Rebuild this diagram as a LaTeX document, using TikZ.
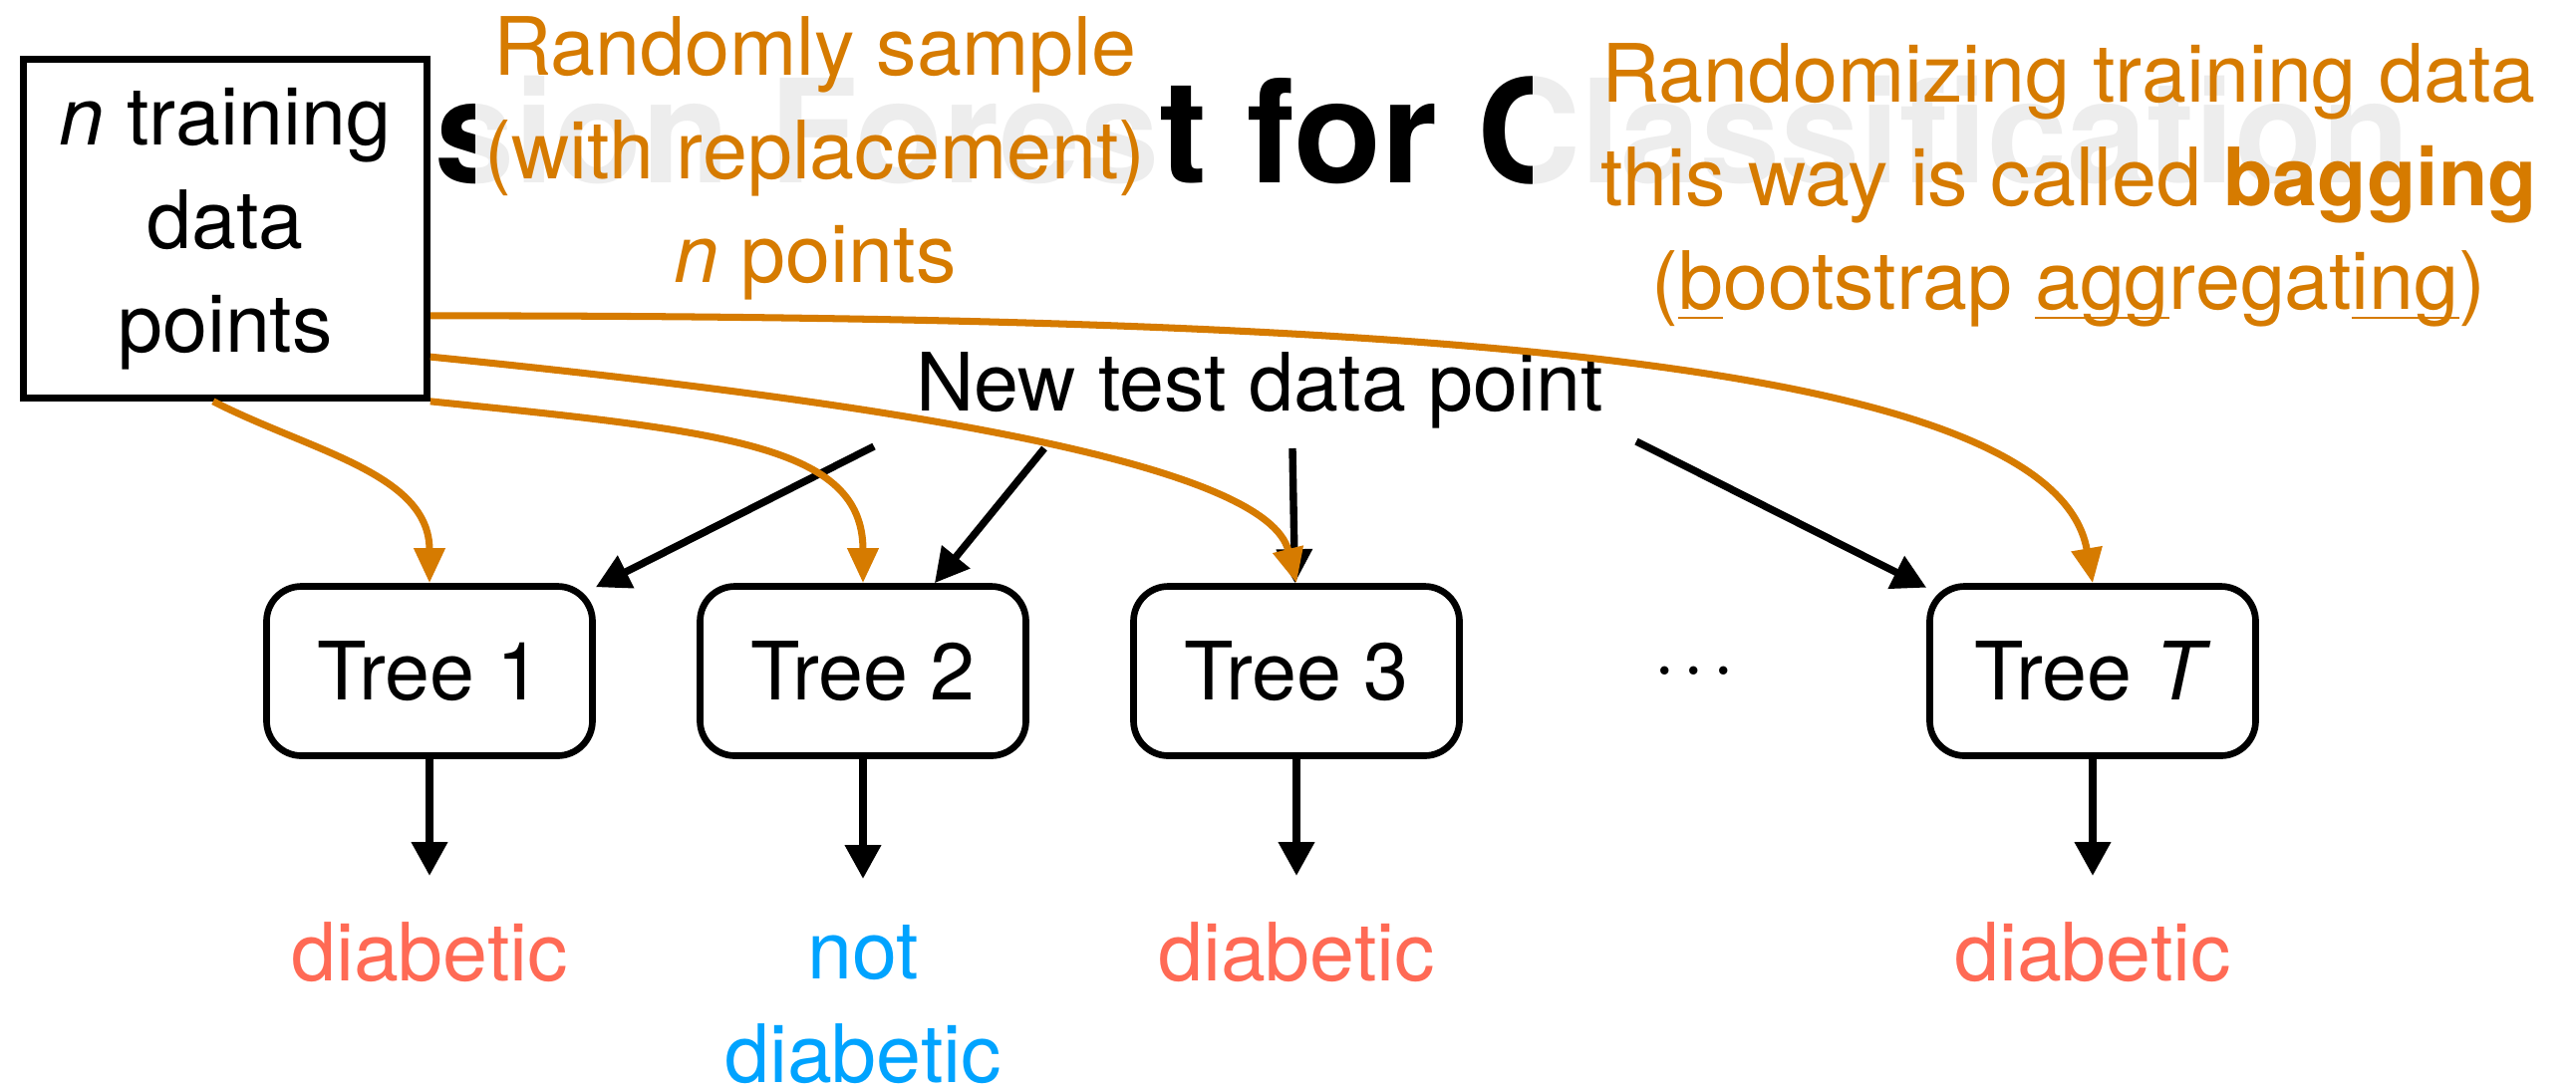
\documentclass[tikz,border=0pt]{standalone}
\usepackage{fontspec}
\setmainfont{TeX Gyre Heros}
\usepackage{xcolor}
\usepackage{tikz}
\usetikzlibrary{arrows.meta}

\definecolor{bagorange}{RGB}{214,123,0}
\definecolor{yescoral}{RGB}{255,106,85}
\definecolor{noblue}{RGB}{0,163,255}

\newcommand{\ulpart}[1]{\setbox0\hbox{#1}\rlap{\rule[-2.9pt]{\wd0}{0.8pt}}#1}

\tikzset{
  txt/.style={font=\fontsize{23}{29.6}\selectfont, inner sep=0pt, align=center},
  heading/.style={font=\bfseries\fontsize{41}{49}\selectfont, inner sep=0pt},
  note/.style={txt, text=bagorange, fill=white, fill opacity=0.93, text opacity=1, inner ysep=0.5mm},
  databox/.style={txt, draw, line width=1.9pt, fill=white, minimum width=4.05cm, minimum height=3.40cm},
  treebox/.style={txt, draw, line width=1.9pt, rounded corners=3.5mm, minimum width=3.27cm, minimum height=1.70cm},
  vote/.style={line width=2.1pt, -{Triangle[length=3.4mm, width=3.5mm]}},
  sample/.style={draw=bagorange, line width=2pt, -{Triangle[length=3.5mm, width=3mm]}},
}

\begin{document}
\begin{tikzpicture}
\useasboundingbox (0,0) rectangle (25.85,-10.93);
% title, partly covered by the notes
\node[heading, anchor=base west] (title) at (1.31,-1.83) {Decision Forest for Classification};
\node[note, minimum width=6.82cm] (samplenote) at (8.18,-1.585) {Randomly sample\\(with replacement)\\\textit{n} points};
\node[note, minimum width=10.76cm] (bagnote) at (20.76,-1.855) {Randomizing training data\\this way is called \textbf{bagging}\\(\ulpart{b}ootstrap \ulpart{agg}regat\ulpart{ing})};
\node[databox] (data) at (2.26,-2.295) {\textit{n} training\\data\\points};
\node[txt, anchor=base] (testpt) at (12.64,-4.12) {New test data point};

% trees
\foreach \i/\x in {1/4.31, 2/8.66, 3/13.01}
  \node[treebox] (tree\i) at (\x,-6.735) {Tree \i};
\node[treebox] (treeT) at (21.0,-6.735) {Tree \textit{T}};
\node[txt, anchor=base] (dots) at (17.0,-6.93) {·\kern2pt·\kern2pt·};

% predictions
\node[txt, text=yescoral, anchor=north] (out1) at (4.31,-9.25) {diabetic};
\node[txt, text=noblue, anchor=north] (out2) at (8.66,-9.28) {not\\diabetic};
\node[txt, text=yescoral, anchor=north] (out3) at (13.01,-9.25) {diabetic};
\node[txt, text=yescoral, anchor=north] (outT) at (21.0,-9.25) {diabetic};
\foreach \i in {1,2,3,T}
  \draw[vote, shorten >=4.6mm] (tree\i) -- (out\i);

% test point goes to every tree
\coordinate (from1) at (8.77,-4.48);
\coordinate (from2) at (10.48,-4.50);
\coordinate (from3) at (12.97,-4.50);
\coordinate (fromT) at (16.42,-4.43);
\foreach \i in {1,2,3,T}
  \draw[vote] (from\i) -- (tree\i);

% bootstrap samples
\draw[sample] (data.-94) .. controls +(0.98,-0.5) and +(0,1.1) .. (tree1.north);
\draw[sample] (data.south east) .. controls +(2.96,-0.3) and +(0,1.38) .. (tree2.north);
\draw[sample] (data.-32) .. controls +(5.0,-0.5) and +(-0.29,1.16) .. (tree3.north);
\draw[sample] (data.-23) .. controls +(9.0,0) and +(-0.41,2.36) .. (treeT.north);
\end{tikzpicture}
\end{document}
